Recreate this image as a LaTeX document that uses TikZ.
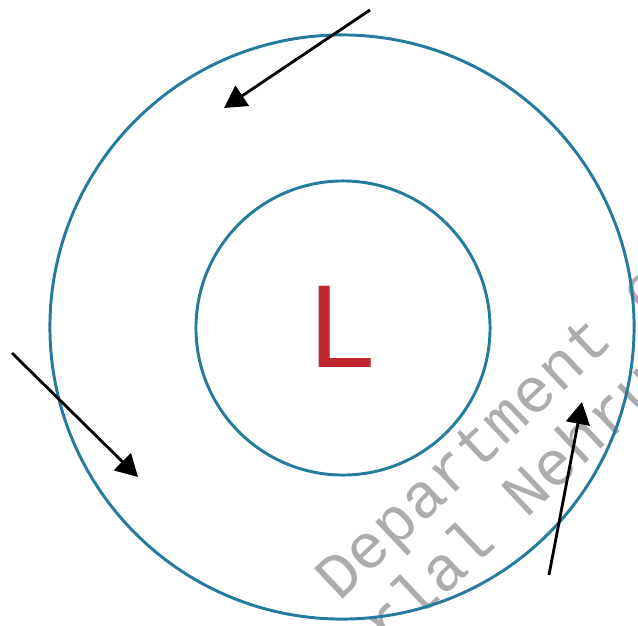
\documentclass[tikz,border=0pt]{standalone}
\usepackage{fontspec}
\setmainfont{Liberation Sans}
\newfontfamily\stampfont{Liberation Mono}
\usetikzlibrary{arrows.meta}
\definecolor{ringblue}{RGB}{38,122,158}
\definecolor{lowred}{RGB}{190,40,45}
\definecolor{stampgray}{RGB}{172,172,172}
\begin{document}
\begin{tikzpicture}[
  x=0.025cm, y=-0.025cm,
  ring/.style={
    draw=ringblue,
    line width=2.1pt,
    circle,
    inner sep=0pt
  },
  wind/.style={
    draw=black,
    line width=2pt,
    -{Triangle[length=0.55cm,width=0.6cm]}
  },
  stamp/.style={
    text=stampgray,
    font=\stampfont\fontsize{45}{45}\selectfont,
    rotate=43.3,
    anchor=base west,
    inner sep=0pt
  }
]
\path[use as bounding box, clip] (0,0) rectangle (638,625);
\node[stamp] (dept) at (339,603) {Department of};
\node[stamp] (name) at (222,806) {Jawaharlal Nehru};

\node[ring, minimum size=14.6cm] (outer) at (342,327) {};
\node[ring, minimum size=7.35cm] (inner) at (343,328) {};
\node[text=lowred, font=\fontsize{84}{84}\selectfont, inner sep=0pt] (low) at (342,327) {L};

\coordinate (n0) at (370,10);
\coordinate (n1) at (224,108);
\coordinate (w0) at (12,353);
\coordinate (w1) at (138,477);
\coordinate (e0) at (549,575);
\coordinate (e1) at (582,402);

\draw[wind] (n0) -- (n1);
\draw[wind] (w0) -- (w1);
\draw[wind] (e0) -- (e1);
\end{tikzpicture}
\end{document}
